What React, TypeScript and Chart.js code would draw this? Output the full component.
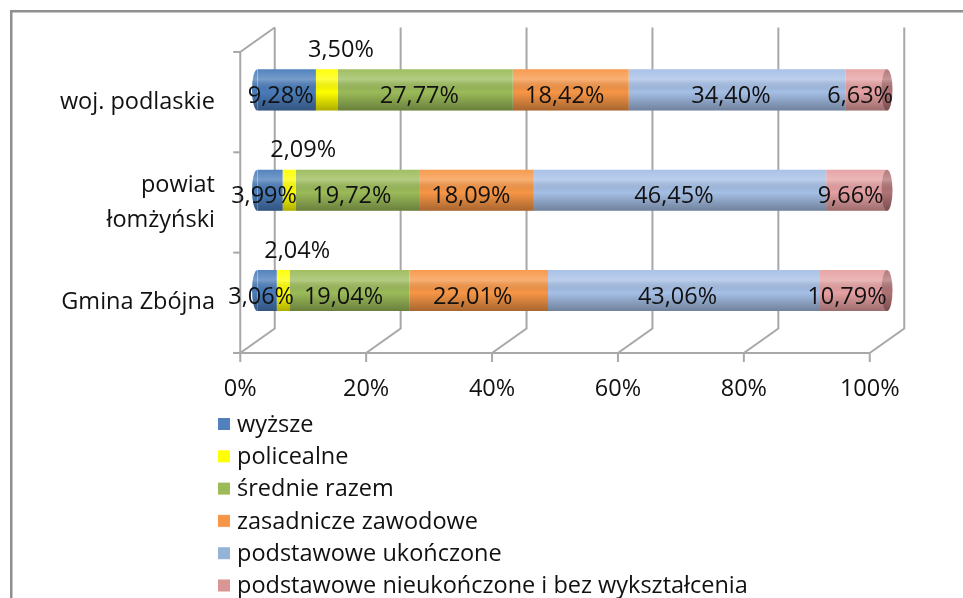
import React, { useEffect, useRef } from 'react';
import { Chart, registerables } from 'chart.js';

Chart.register(...registerables);

// ---- data ----
const categories: (string | string[])[] = ['woj. podlaskie', ['powiat', 'łomżyński'], 'Gmina Zbójna'];
const seriesNames = [
  'wyższe',
  'policealne',
  'średnie razem',
  'zasadnicze zawodowe',
  'podstawowe ukończone',
  'podstawowe nieukończone i bez wykształcenia',
];
const wyzsze = [9.28, 3.99, 3.06];
const policealne = [3.5, 2.09, 2.04];
const srednieRazem = [27.77, 19.72, 19.04];
const zasadniczeZawodowe = [18.42, 18.09, 22.01];
const podstawoweUkonczone = [34.4, 46.45, 43.06];
const podstawoweNieukonczone = [6.63, 9.66, 10.79];
const xTickValues = [0, 20, 40, 60, 80, 100];

const seriesValues = [wyzsze, policealne, srednieRazem, zasadniczeZawodowe, podstawoweUkonczone, podstawoweNieukonczone];
const seriesColors = ['#4a7cba', '#ffff00', '#9bbb59', '#f79646', '#a5bfe6', '#e6a0a2'];
const legendColors = ['#4f81bd', '#ffff00', '#9bbb59', '#f79646', '#95b3d7', '#d99694'];
const capColor = '#b07375';

// ---- style ----
const FONT_FAMILY = "'Open Sans', sans-serif";
const FONT_SIZE = 23.5;
const TEXT_COLOR = '#111111';
const GRID_COLOR = '#a8a8a8';
const DX = 17.25;
const DY = 12.25;
const ABOVE_SERIES = 1;

const fmt = (v: number) => v.toFixed(2).replace('.', ',') + '%';

const cylinderPlugin = {
  id: 'cylinder3d',
  beforeDraw(chart: any) {
    const ctx = chart.ctx;
    ctx.save();
    ctx.fillStyle = '#ffffff';
    ctx.fillRect(0, 0, chart.width, chart.height);
    ctx.strokeStyle = '#8f8f8f';
    ctx.lineWidth = 2.5;
    ctx.strokeRect(11.25, 11.25, chart.width + 40, chart.height + 40);
    ctx.restore();
  },
  beforeDatasetsDraw(chart: any) {
    const { ctx } = chart;
    const x = chart.scales.x;
    const y = chart.scales.y;
    const top = y.top;
    const bottom = y.bottom;
    ctx.save();
    ctx.strokeStyle = GRID_COLOR;
    ctx.lineWidth = 2;
    xTickValues.forEach((v) => {
      const px = x.getPixelForValue(v);
      ctx.beginPath();
      ctx.moveTo(px + DX, top - DY);
      ctx.lineTo(px + DX, bottom - DY);
      ctx.lineTo(px - DX, bottom + DY);
      ctx.lineTo(px - DX, bottom + DY + 9);
      ctx.stroke();
    });
    const fx0 = x.getPixelForValue(xTickValues[0]) - DX;
    const fx1 = x.getPixelForValue(xTickValues[xTickValues.length - 1]) - DX;
    ctx.beginPath();
    ctx.moveTo(fx0 - 7, bottom + DY);
    ctx.lineTo(fx1, bottom + DY);
    ctx.stroke();
    ctx.beginPath();
    ctx.moveTo(fx0 + 2 * DX, top - DY);
    ctx.lineTo(fx0, top + DY);
    ctx.lineTo(fx0, bottom + DY);
    ctx.stroke();
    const n = chart.data.labels.length;
    for (let i = 0; i <= n; i++) {
      const yy = top + DY + ((bottom - top) * i) / n;
      ctx.beginPath();
      ctx.moveTo(fx0 - 7, yy);
      ctx.lineTo(fx0, yy);
      ctx.stroke();
    }
    ctx.restore();
  },
  afterDatasetsDraw(chart: any) {
    const { ctx } = chart;
    const metas = chart.data.datasets.map((_: any, i: number) => chart.getDatasetMeta(i));
    const n = chart.data.labels.length;
    for (let j = 0; j < n; j++) {
      const first = metas[0].data[j];
      const last = metas[metas.length - 1].data[j];
      const h = first.height;
      const yc = first.y;
      const x0 = first.base;
      const x1 = last.x;
      const rx = 5.5;
      const ry = h / 2;
      ctx.save();
      ctx.fillStyle = seriesColors[0];
      ctx.beginPath();
      ctx.ellipse(x0, yc, rx, ry, 0, Math.PI / 2, Math.PI * 1.5);
      ctx.fill();
      ctx.fillStyle = capColor;
      ctx.beginPath();
      ctx.ellipse(x1, yc, rx, ry, 0, 0, Math.PI * 2);
      ctx.fill();
      ctx.beginPath();
      ctx.ellipse(x0, yc, rx, ry, 0, Math.PI / 2, Math.PI * 1.5);
      ctx.lineTo(x1, yc - ry);
      ctx.ellipse(x1, yc, rx, ry, 0, -Math.PI / 2, Math.PI / 2);
      ctx.closePath();
      const g = ctx.createLinearGradient(0, yc - ry, 0, yc + ry);
      g.addColorStop(0, 'rgba(255,255,255,0.05)');
      g.addColorStop(0.25, 'rgba(255,255,255,0.25)');
      g.addColorStop(0.55, 'rgba(0,0,0,0)');
      g.addColorStop(1, 'rgba(0,0,0,0.32)');
      ctx.fillStyle = g;
      ctx.fill();
      ctx.restore();
    }
    ctx.save();
    ctx.font = `${FONT_SIZE}px ${FONT_FAMILY}`;
    ctx.fillStyle = TEXT_COLOR;
    ctx.textAlign = 'center';
    ctx.textBaseline = 'middle';
    metas.forEach((meta: any, i: number) => {
      meta.data.forEach((el: any, j: number) => {
        const v = chart.data.datasets[i].data[j] as number;
        let cx = (el.x + el.base) / 2 - 6;
        let cy = el.y + 6.5;
        if (i === ABOVE_SERIES) {
          cx = (el.x + el.base) / 2 + 14;
          cy = el.y - el.height / 2 - 19;
        }
        ctx.fillText(fmt(v), cx, cy);
      });
    });
    ctx.restore();
  },
  afterDraw(chart: any) {
    const { ctx } = chart;
    const legX = 218;
    const legTop = 424;
    const legRow = 32.3;
    ctx.save();
    ctx.font = `${FONT_SIZE}px ${FONT_FAMILY}`;
    ctx.textAlign = 'left';
    ctx.textBaseline = 'middle';
    chart.data.datasets.forEach((ds: any, i: number) => {
      const cy = legTop + i * legRow;
      ctx.fillStyle = legendColors[i];
      ctx.fillRect(legX, cy - 6, 12, 12);
      ctx.fillStyle = TEXT_COLOR;
      ctx.fillText(ds.label, legX + 19, cy + 1);
    });
    ctx.restore();
  },
};

export default function App() {
  const ref = useRef<HTMLCanvasElement | null>(null);
  useEffect(() => {
    document.body.style.margin = '0';
    const canvas = ref.current;
    if (!canvas) return;
    const font = { family: FONT_FAMILY, size: FONT_SIZE };
    const chart = new Chart(canvas, {
      type: 'bar',
      data: {
        labels: categories as any,
        datasets: seriesNames.map((name, i) => ({
          label: name,
          data: seriesValues[i],
          backgroundColor: seriesColors[i],
          borderWidth: 0,
          barPercentage: 0.41,
          categoryPercentage: 1,
        })),
      },
      options: {
        indexAxis: 'y',
        responsive: false,
        animation: false,
        events: [],
        layout: { padding: { left: 0, top: 39.7, right: 76, bottom: 197.3 } },
        plugins: { legend: { display: false }, tooltip: { enabled: false } },
        scales: {
          x: {
            stacked: true,
            min: 0,
            max: 100,
            afterFit: (s: any) => {
              s.height = 60;
              s.paddingLeft = 0;
              s.paddingRight = 0;
            },
            grid: { display: false, drawTicks: false },
            border: { display: false },
            ticks: {
              stepSize: 20,
              callback: (v: any) => v + '%',
              labelOffset: -DX,
              padding: 35,
              font,
              color: TEXT_COLOR,
            },
          },
          y: {
            stacked: true,
            afterFit: (s: any) => {
              s.width = 257.5;
              s.paddingTop = 0;
              s.paddingBottom = 0;
            },
            grid: { display: false, drawTicks: false },
            border: { display: false },
            ticks: {
              padding: 42.5,
              labelOffset: DY,
              font: { ...font, lineHeight: 1.5 },
              color: TEXT_COLOR,
            },
          },
        },
      },
      plugins: [cylinderPlugin],
    });
    return () => chart.destroy();
  }, []);
  return <canvas ref={ref} width={963} height={598} style={{ display: 'block', width: 963, height: 598 }} />;
}
